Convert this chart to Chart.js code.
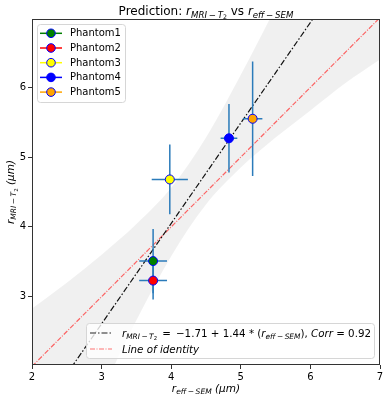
<!DOCTYPE html>
<html>
<head>
<meta charset="utf-8">
<script src="https://cdn.jsdelivr.net/npm/chart.js@4.4.1/dist/chart.umd.min.js"></script>
<style>
  html, body { margin: 0; padding: 0; background: #fff; }
</style>
</head>
<body>
<canvas id="chart" width="389" height="400"></canvas>
<script>
// data
const phantoms = ['Phantom1', 'Phantom2', 'Phantom3', 'Phantom4', 'Phantom5']
const phantomColors = ['green', 'red', 'yellow', 'blue', 'orange']
const semRadius = [3.74, 3.74, 3.98, 4.83, 5.17]
const mriRadius = [3.51, 3.23, 4.68, 5.27, 5.55]
const semError = [0.20, 0.20, 0.26, 0.12, 0.14]
const mriError = [0.46, 0.27, 0.50, 0.49, 0.82]

const fitX = [2, 7]
const fitY = [1.17, 8.37]
const identityX = [2, 7]
const identityY = [2, 7]

// confidence band of the fit
const bandX = [2, 2.5, 3, 3.5, 4, 4.5, 5, 5.5, 6, 6.5, 7]
const bandUpper = [2.83, 3.20, 3.60, 4.04, 4.56, 5.28, 6.18, 7.15, 8.20, 9.20, 10.30]
const bandLower = [-0.45, 0.58, 1.63, 2.66, 3.58, 4.32, 4.85, 5.28, 5.67, 6.06, 6.40]

const xTicks = [2, 3, 4, 5, 6, 7]
const yTicks = [3, 4, 5, 6]

const FONT = '"DejaVu Sans", sans-serif'
const ERR_COLOR = '#2b7bba'
const SP = '\u2002'

const toXY = (xs, ys) => xs.map((x, i) => ({x: x, y: ys[i]}))

// draw text with italic / subscript pieces, a bit like matplotlib mathtext
// style: n = normal, i = italic, s = italic subscript, ss = sub-subscript
function richParts(ctx, parts, size) {
    return parts.map(([t, st]) => {
        let sz = size, dy = 0, it = st !== 'n'
        if (st === 's') { sz = size * 0.72; dy = size * 0.22 }
        if (st === 'ss') { sz = size * 0.52; dy = size * 0.34; it = false }
        const font = (it ? 'italic ' : '') + sz + 'px ' + FONT
        ctx.font = font
        return {t, font, dy, w: ctx.measureText(t).width}
    })
}

function drawRich(ctx, parts, x, y, size, align, rotate) {
    const p = richParts(ctx, parts, size)
    const total = p.reduce((a, b) => a + b.w, 0)
    ctx.save()
    ctx.translate(x, y)
    if (rotate) ctx.rotate(rotate)
    let cx = align === 'center' ? -total / 2 : 0
    ctx.fillStyle = '#000'
    ctx.textBaseline = 'alphabetic'
    ctx.textAlign = 'left'
    p.forEach(q => {
        ctx.font = q.font
        ctx.fillText(q.t, cx, q.dy)
        cx += q.w
    })
    ctx.restore()
}

function roundBox(ctx, x, y, w, h, r) {
    ctx.beginPath()
    ctx.moveTo(x + r, y)
    ctx.arcTo(x + w, y, x + w, y + h, r)
    ctx.arcTo(x + w, y + h, x, y + h, r)
    ctx.arcTo(x, y + h, x, y, r)
    ctx.arcTo(x, y, x + w, y, r)
    ctx.closePath()
    ctx.fillStyle = 'rgba(255,255,255,0.8)'
    ctx.fill()
    ctx.strokeStyle = '#d6d6d6'
    ctx.lineWidth = 1
    ctx.stroke()
}

const errorBars = {
    id: 'errorBars',
    beforeDatasetDraw(chart, args) {
        if (args.index !== 0) return
        const {ctx, scales: {x, y}} = chart
        ctx.save()
        ctx.strokeStyle = ERR_COLOR
        ctx.lineWidth = 1.5
        semRadius.forEach((sx, i) => {
            const my = mriRadius[i]
            ctx.beginPath()
            ctx.moveTo(x.getPixelForValue(sx - semError[i]), y.getPixelForValue(my))
            ctx.lineTo(x.getPixelForValue(sx + semError[i]), y.getPixelForValue(my))
            ctx.moveTo(x.getPixelForValue(sx), y.getPixelForValue(my - mriError[i]))
            ctx.lineTo(x.getPixelForValue(sx), y.getPixelForValue(my + mriError[i]))
            ctx.stroke()
        })
        ctx.restore()
    }
}

const decorations = {
    id: 'decorations',
    afterDraw(chart) {
        const {ctx, chartArea: a} = chart
        const mid = (a.left + a.right) / 2

        // frame
        ctx.save()
        ctx.strokeStyle = '#333'
        ctx.lineWidth = 1
        ctx.strokeRect(Math.round(a.left) + 0.5, Math.round(a.top) + 0.5,
            Math.round(a.right - a.left) - 1, Math.round(a.bottom - a.top) - 1)
        ctx.restore()

        // title and axis titles
        drawRich(ctx, [['Prediction: ', 'n'], ['r', 'i'], ['MRI\u2009\u2212\u2009T', 's'], ['2', 'ss'],
            [' vs ', 'n'], ['r', 'i'], ['eff\u2009\u2212\u2009SEM', 's']], mid, 15, 12, 'center')
        drawRich(ctx, [['r', 'i'], ['eff\u2009\u2212\u2009SEM', 's'], [' (\u03bcm)', 'i']], mid, 392, 10.5, 'center')
        drawRich(ctx, [['r', 'i'], ['MRI\u2009\u2212\u2009T', 's'], ['2', 'ss'], [' (\u03bcm)', 'i']],
            14, (a.top + a.bottom) / 2, 10.5, 'center', -Math.PI / 2)

        // phantom legend
        ctx.save()
        roundBox(ctx, 37.5, 24.5, 88, 78, 3)
        phantoms.forEach((name, i) => {
            const ly = 33.3 + i * 14.7
            ctx.strokeStyle = phantomColors[i]
            ctx.lineWidth = 1.5
            ctx.beginPath()
            ctx.moveTo(40, ly)
            ctx.lineTo(62, ly)
            ctx.stroke()
            ctx.beginPath()
            ctx.arc(51, ly, 4.3, 0, Math.PI * 2)
            ctx.fillStyle = phantomColors[i]
            ctx.fill()
            ctx.strokeStyle = 'blue'
            ctx.lineWidth = 1
            ctx.stroke()
            ctx.fillStyle = '#000'
            ctx.font = '10px ' + FONT
            ctx.textBaseline = 'middle'
            ctx.fillText(name, 70, ly + 0.5)
        })

        // fit legend
        roundBox(ctx, 86.5, 323.5, 288, 35, 3)
        const lines = [
            {y: 333, color: '#222', dash: [6, 2, 1.5, 2]},
            {y: 349, color: 'rgba(255,40,40,0.65)', dash: [5, 1.5, 1, 1.5]}
        ]
        lines.forEach(l => {
            ctx.strokeStyle = l.color
            ctx.setLineDash(l.dash)
            ctx.lineWidth = 1.2
            ctx.beginPath()
            ctx.moveTo(90, l.y)
            ctx.lineTo(112, l.y)
            ctx.stroke()
        })
        ctx.setLineDash([])
        ctx.restore()
        drawRich(ctx, [['r', 'i'], ['MRI\u2009\u2212\u2009T', 's'], ['2', 'ss'],
            [SP + '=' + SP + '\u22121.71 + 1.44 * (', 'n'],
            ['r', 'i'], ['eff\u2009\u2212\u2009SEM', 's'], ['), ', 'n'], ['Corr', 'i'], [' = 0.92', 'n']],
            122, 336.5, 10.3, 'left')
        drawRich(ctx, [['Line of identity', 'i']], 122, 352.5, 10.3, 'left')
    }
}

new Chart(document.getElementById('chart').getContext('2d'), {
    data: {
        datasets: [
            {
                type: 'scatter',
                data: toXY(semRadius, mriRadius),
                backgroundColor: phantomColors,
                borderColor: 'blue',
                borderWidth: 1,
                pointRadius: 4.5,
                order: 0
            },
            {
                type: 'line',
                data: toXY(fitX, fitY),
                borderColor: '#111',
                borderWidth: 1.2,
                borderDash: [6, 2, 1.5, 2],
                pointRadius: 0,
                order: 2
            },
            {
                type: 'line',
                data: toXY(identityX, identityY),
                borderColor: 'rgba(255,40,40,0.7)',
                borderWidth: 1.2,
                borderDash: [5, 1.5, 1, 1.5],
                pointRadius: 0,
                order: 3
            },
            {
                type: 'line',
                data: toXY(bandX, bandUpper),
                borderWidth: 0,
                pointRadius: 0,
                fill: '+1',
                backgroundColor: 'rgba(0,0,0,0.06)',
                cubicInterpolationMode: 'monotone',
                order: 5
            },
            {
                type: 'line',
                data: toXY(bandX, bandLower),
                borderWidth: 0,
                pointRadius: 0,
                fill: false,
                cubicInterpolationMode: 'monotone',
                order: 6
            }
        ]
    },
    options: {
        responsive: false,
        animation: false,
        devicePixelRatio: 1,
        layout: {padding: {top: 19, right: 9, left: 0, bottom: 0}},
        plugins: {legend: {display: false}, tooltip: {enabled: false}, title: {display: false}},
        scales: {
            x: {
                type: 'linear',
                min: 2,
                max: 7,
                afterBuildTicks: s => { s.ticks = xTicks.map(v => ({value: v})) },
                afterFit: s => { s.height = 35 },
                grid: {drawOnChartArea: false, tickLength: 4, color: '#333'},
                border: {display: false},
                ticks: {color: '#000', font: {family: FONT, size: 10}, padding: 2, maxRotation: 0}
            },
            y: {
                type: 'linear',
                min: 2.02,
                max: 6.98,
                afterBuildTicks: s => { s.ticks = yTicks.map(v => ({value: v})) },
                afterFit: s => { s.width = 32 },
                grid: {drawOnChartArea: false, tickLength: 4, color: '#333'},
                border: {display: false},
                ticks: {color: '#000', font: {family: FONT, size: 10}, padding: 2}
            }
        }
    },
    plugins: [errorBars, decorations]
})
</script>
</body>
</html>
